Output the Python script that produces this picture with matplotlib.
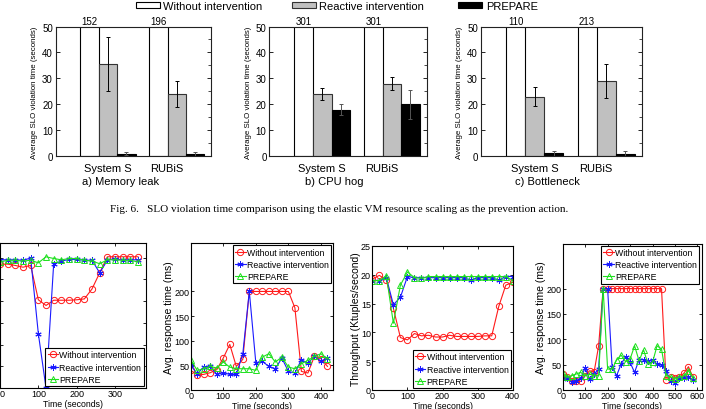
import matplotlib.pyplot as plt
import numpy as np
from matplotlib.ticker import MultipleLocator

plt.rcParams['font.family'] = ['Liberation Sans', 'DejaVu Sans']

# ---- Fig. 6 data (average SLO violation time, seconds) ----
scenarios = ['a) Memory leak', 'b) CPU hog', 'c) Bottleneck']
apps = ['System S', 'RUBiS']
series_names = ['Without intervention', 'Reactive intervention', 'PREPARE']
without_vals = [[152, 196], [301, 301], [110, 213]]
reactive_vals = [[35.5, 24.0], [24.0, 28.0], [23.0, 29.0]]
reactive_err = [[10.5, 5.0], [2.5, 2.6], [3.6, 6.7]]
prepare_vals = [[1.0, 1.0], [18.0, 20.0], [1.2, 1.0]]
prepare_err = [[0.5, 0.8], [2.2, 5.5], [0.9, 0.9]]

# ---- Fig. 7 data (time series) ----
line_names = ['Without intervention', 'Reactive intervention', 'PREPARE']

t1 = [0, 20, 40, 60, 80, 100, 120, 140, 160, 180, 200, 220, 240, 260, 280, 300, 320, 340, 360]
p1_without = [28.5, 28.5, 28.2, 27.8, 28.2, 20.3, 19.0, 20.2, 20.2, 20.2, 20.3, 20.5, 22.8, 26.5,
              30.2, 30.2, 30.2, 30.2, 30.2]
p1_reactive = [29.5, 29.5, 29.5, 29.4, 29.9, 12.5, 0.0, 28.6, 29.2, 29.6, 29.6, 29.4, 29.4, 26.5,
               29.4, 29.8, 29.4, 29.5, 29.5]
p1_prepare = [29.0, 29.4, 29.4, 29.2, 29.4, 28.8, 30.2, 29.8, 29.5, 29.8, 29.8, 29.4, 29.2, 28.6,
              29.5, 29.5, 29.4, 29.4, 29.0]

t2 = [0, 20, 40, 60, 80, 100, 120, 140, 160, 180, 200, 220, 240, 260, 280, 300, 320, 340, 360,
      380, 400, 420]
p2_without = [39.3, 30.5, 31.2, 34.6, 40.7, 64.4, 92.2, 47.5, 61.7, 200, 200, 200, 200, 200, 200,
              200, 166.8, 37.3, 33.9, 67.8, 63.0, 47.5]
p2_reactive = [49.5, 32.5, 46.0, 47.5, 31.0, 34.6, 31.0, 31.0, 73.0, 200, 55.0, 57.6, 47.5, 42.7,
               64.4, 37.3, 33.9, 61.0, 54.0, 67.8, 57.6, 65.0]
p2_prepare = [61.0, 39.3, 42.7, 47.5, 44.0, 56.3, 46.0, 42.7, 42.7, 42.7, 39.3, 66.4, 73.2, 56.3,
              66.4, 46.0, 42.7, 52.9, 59.7, 67.8, 73.2, 63.0]

t3 = [0, 20, 40, 60, 80, 100, 120, 140, 160, 180, 200, 220, 240, 260, 280, 300, 320, 340, 360,
      380, 400]
p3_without = [19.25, 19.9, 19.1, 14.2, 9.1, 8.7, 9.8, 9.4, 9.5, 9.2, 9.2, 9.5, 9.3, 9.3, 9.3, 9.3,
              9.4, 9.4, 14.5, 18.2, 18.7]
p3_reactive = [19.0, 19.0, 19.5, 14.8, 16.1, 19.7, 19.5, 19.5, 19.5, 19.5, 19.5, 19.5, 19.5, 19.5,
               19.1, 19.5, 19.5, 19.5, 19.1, 19.7, 19.7]
p3_prepare = [19.0, 19.0, 19.8, 11.6, 18.2, 20.5, 19.5, 19.4, 19.7, 19.7, 19.7, 19.7, 19.7, 19.7,
              19.7, 19.7, 19.7, 19.7, 19.7, 19.7, 19.0]

t4 = [0, 20, 40, 60, 80, 100, 120, 140, 160, 180, 200, 220, 240, 260, 280, 300, 320, 340, 360,
      380, 400, 420, 440, 460, 480, 500, 520, 540, 560, 580]
p4_without = [31.5, 26.0, 18.4, 17.0, 17.0, 28.0, 38.0, 36.0, 87.0, 200, 200, 200, 200, 200, 200,
              200, 200, 200, 200, 200, 200, 200, 200, 20.0, 25.0, 23.6, 25.0, 33.4, 46.0, 25.0]
p4_reactive = [21.6, 23.0, 16.4, 18.4, 23.6, 43.3, 21.6, 31.5, 41.3, 200, 200, 44.6, 28.2, 51.1,
               65.6, 54.4, 34.8, 59.7, 59.7, 57.7, 59.0, 51.1, 49.2, 38.0, 18.4, 13.8, 23.0, 23.0,
               25.0, 20.3]
p4_prepare = [32.8, 25.0, 28.2, 31.5, 34.8, 28.2, 31.5, 28.2, 28.2, 200, 41.3, 41.3, 59.0, 68.9,
              55.7, 61.0, 87.2, 57.7, 79.3, 51.1, 54.4, 87.2, 80.7, 28.2, 26.2, 21.6, 25.0, 28.2,
              38.0, 23.0]

W, H = 706, 410
fig = plt.figure(figsize=(W / 100, H / 100), dpi=100)


def box(x0, y0, x1, y1):
    # pixel box (top-left origin) -> figure fraction
    return [x0 / W, 1 - y1 / H, (x1 - x0) / W, (y1 - y0) / H]


# ---------------- top row: bar charts ----------------
top_boxes = [box(55.7, 27.5, 211.3, 157.3), box(269.3, 27.5, 426.7, 157.3),
             box(480.7, 27.5, 641.7, 157.3)]
bw = 0.267
groups = np.array([1.0, 2.0])
bar_handles = None
for i, rect in enumerate(top_boxes):
    ax = fig.add_axes(rect)
    b1 = ax.bar(groups - bw, without_vals[i], bw, color='white', edgecolor='black', lw=0.8)
    b2 = ax.bar(groups, reactive_vals[i], bw, color='#c0c0c0', edgecolor='#333333', lw=0.8,
                yerr=reactive_err[i], error_kw=dict(elinewidth=0.7, capsize=1.2, capthick=0.7))
    b3 = ax.bar(groups + bw, prepare_vals[i], bw, color='black', edgecolor='black', lw=0.8,
                yerr=prepare_err[i], error_kw=dict(elinewidth=0.7, capsize=1.2, capthick=0.7,
                                                    ecolor='#555555'))
    bar_handles = [b1, b2, b3]
    for gx, v in zip(groups - bw, without_vals[i]):
        ax.text(gx, 50.3, str(v), ha='center', va='bottom', fontsize=7)
    ax.set_xlim(0.24, 2.5)
    ax.set_ylim(0, 50)
    ax.set_xticks([1.0, 1.85])
    ax.set_xticklabels(apps, fontsize=8)
    ax.tick_params(axis='x', length=0, pad=5)
    ax.yaxis.set_major_locator(MultipleLocator(10))
    ax.yaxis.set_minor_locator(MultipleLocator(5))
    ax.tick_params(axis='y', which='major', labelsize=7, direction='in', right=True, length=3,
                   width=0.6, pad=2)
    ax.tick_params(axis='y', which='minor', left=False, right=True, direction='in', length=2,
                   width=0.5)
    for s in ax.spines.values():
        s.set_linewidth(0.8)
        s.set_color('#222222')
    ax.set_ylabel('Average SLO violation time (seconds)', fontsize=5.7, labelpad=3)
    ax.text(0.415, -0.19, scenarios[i], transform=ax.transAxes, ha='center', va='center',
            fontsize=8)

leg_x = [135.7, 291.7, 458.0]
for bars, name, lx in zip(bar_handles, series_names, leg_x):
    fig.legend([bars.patches[0]], [name], loc='center left', bbox_to_anchor=(lx / W, 1 - 7 / H),
               frameon=False, fontsize=8, handlelength=2.2, handleheight=0.55,
               handletextpad=0.3, borderpad=0, borderaxespad=0)

fig.text(339 / W, 1 - 210 / H,
         'Fig. 6.   SLO violation time comparison using the elastic VM resource scaling as the prevention action.',
         ha='center', va='center', fontsize=8, family=['Liberation Serif', 'DejaVu Serif'])

# ---------------- bottom row: time series ----------------
styles = [dict(color='#ff1a1a', marker='o', mfc='none', ms=4.5),
          dict(color='#1a1aff', marker=(6, 2, 0), ms=4.5),
          dict(color='#1ee01e', marker='^', mfc='none', ms=4.5)]

panels = [
    dict(rect=box(0, 244.3, 145.7, 389), t=t1, ys=[p1_without, p1_reactive, p1_prepare],
         xlim=(0, 380), ylim=(0, 33.3), xt=[0, 100, 200, 300], yt=[0, 5, 10, 15, 20, 25, 30],
         ylabel=None, loc='lower right'),
    dict(rect=box(190.7, 244.3, 333.3, 390.7), t=t2, ys=[p2_without, p2_reactive, p2_prepare],
         xlim=(0, 438), ylim=(0, 298), xt=[0, 100, 200, 300, 400], yt=[0, 50, 100, 150, 200],
         ylabel='Avg. response time (ms)', loc='upper right'),
    dict(rect=box(372.3, 247, 512.8, 391), t=t3, ys=[p3_without, p3_reactive, p3_prepare],
         xlim=(0, 400), ylim=(0, 25), xt=[0, 100, 200, 300, 400], yt=[0, 5, 10, 15, 20, 25],
         ylabel='Throughput (Ktuples/second)', loc='lower right'),
    dict(rect=box(562.7, 245, 701.5, 391), t=t4, ys=[p4_without, p4_reactive, p4_prepare],
         xlim=(0, 618), ylim=(0, 288), xt=[0, 100, 200, 300, 400, 500, 600],
         yt=[0, 50, 100, 150, 200], ylabel='Avg. response time (ms)', loc='upper right'),
]

for k, p in enumerate(panels):
    ax = fig.add_axes(p['rect'])
    for ys, st, name in zip(p['ys'], styles, line_names):
        ax.plot(p['t'], ys, lw=0.8, mew=0.7, label=name, **st)
    ax.set_xlim(*p['xlim'])
    ax.set_ylim(*p['ylim'])
    ax.set_xticks(p['xt'])
    ax.set_yticks(p['yt'])
    ax.tick_params(direction='in', top=True, right=True, labelsize=6.5, length=2.5, width=0.6,
                   pad=1)
    if k == 0:
        # first panel is cropped at the left edge of the page
        ax.tick_params(labelleft=False)
        ax.get_xticklabels()[0].set_horizontalalignment('left')
    for s in ax.spines.values():
        s.set_linewidth(0.8)
    ax.set_xlabel('Time (seconds)', fontsize=6.3, labelpad=0.3)
    if p['ylabel']:
        ax.set_ylabel(p['ylabel'], fontsize=7.5, labelpad=0)
    leg = ax.legend(loc=p['loc'], fontsize=6.3, handlelength=1.2, handletextpad=0.15,
                    borderpad=0.25, labelspacing=0.35, borderaxespad=0.25, fancybox=False,
                    framealpha=1)
    leg.get_frame().set_edgecolor('black')
    leg.get_frame().set_linewidth(0.8)

fig.savefig('out.png', dpi=100)
